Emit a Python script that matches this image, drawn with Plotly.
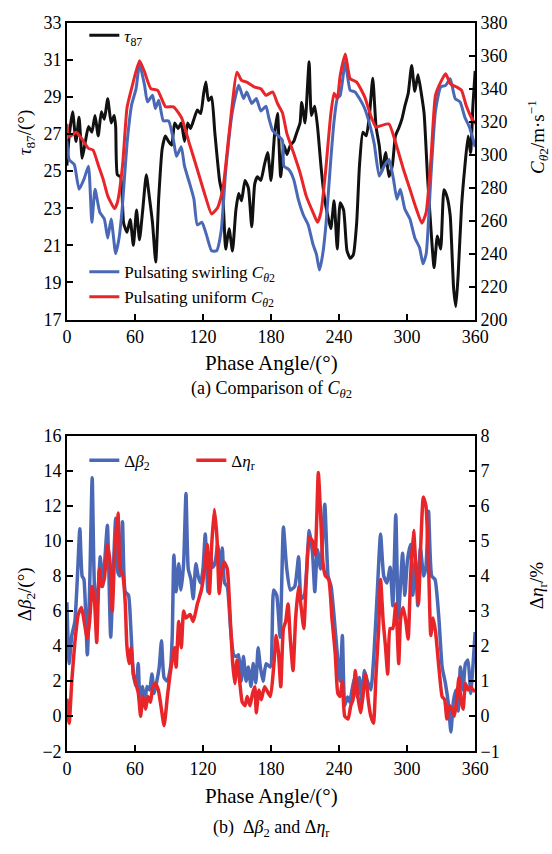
import plotly.graph_objects as go

# ---------------- (a) tau87 and C_theta2 over one pulse ----------------
tau_x = [0, 2, 5, 8, 10.7, 13.5, 16.3, 19, 22, 24.8, 27.6, 30.4, 33, 36, 39, 41.7, 43, 44.5, 47.3, 50,
         53, 55.8, 58.6, 61.4, 64, 67, 70, 72.7, 75.5, 78.3, 81, 84, 86.8, 89.6, 92.4, 95, 98, 100.8,
         103.7, 106.5, 109, 112, 115, 118, 120.6, 122.5, 124.8, 127.6, 130.4, 134.6, 137.5, 140, 143,
         146, 149, 151.5, 154, 157, 160, 163, 165.6, 168, 171, 174, 177, 180, 183, 185.7, 188.5, 191.4,
         194, 197, 200, 202.8, 205.6, 207, 210, 211, 213.6, 215.6, 218.5, 221, 224, 227, 230, 232.7,
         235.6, 238.4, 241, 244, 247, 250, 252.6, 255.5, 258, 261, 264, 266.9, 269.7, 272.6, 275.4, 278,
         281, 284, 287, 289.7, 292.5, 295.4, 298, 301, 304, 306.8, 309.6, 312.5, 315, 318, 321, 323.8,
         326.7, 329.6, 332.5, 335.3, 338, 341, 343, 345, 348, 351, 353.8, 356, 358, 360]
tau_y = [25.3, 26.9, 28.2, 26.6, 27.9, 25.7, 26.6, 27.4, 27.1, 28.0, 26.9, 28.2, 27.8, 28.9, 27.6, 28.0, 27.4,
         24.8, 24.7, 22.2, 21.7, 22.4, 21.0, 22.9, 21.3, 23.0, 24.8, 23.6, 22.2, 20.1, 23.6, 26.2, 26.9,
         26.6, 26.4, 27.6, 27.3, 27.6, 26.6, 27.6, 27.3, 27.8, 28.3, 28.1, 29.2, 29.8, 28.8, 29.0, 27.1,
         24.5, 23.6, 20.8, 21.9, 20.7, 22.9, 23.8, 23.4, 24.5, 24.1, 22.0, 24.3, 24.7, 24.5, 25.3, 26.0,
         24.5, 26.9, 28.1, 24.7, 26.4, 25.9, 26.4, 26.6, 27.1, 27.6, 28.7, 27.6, 28.3, 30.9, 28.0, 28.5,
         27.4, 25.3, 23.6, 22.6, 21.9, 23.4, 20.8, 23.3, 22.9, 20.7, 20.3, 20.5, 22.2, 25.3, 27.1, 26.9,
         28.1, 30.0, 27.4, 26.4, 25.0, 26.0, 24.7, 25.3, 26.9, 27.3, 27.8, 28.5, 29.2, 30.7, 29.3, 30.2,
         29.2, 28.1, 24.7, 21.9, 19.8, 21.5, 20.8, 24.0, 23.6, 22.6, 18.7, 17.7, 19.4, 23.1, 25.3, 26.9,
         26.0, 28.5, 30.4]

swirl_x = [0, 2, 6.5, 10.7, 15, 19, 22, 24.8, 29, 33, 36, 39, 43, 46, 48.7, 53, 57, 61, 64, 68.5, 71,
           75.5, 78, 81, 85, 89.6, 94, 96.6, 100.8, 103.7, 108, 112, 115, 119, 123, 127.6, 132, 136, 140,
           146, 151.5, 155.8, 158.6, 163, 167, 171, 175.5, 178, 181.4, 185.7, 190, 191.4, 195.7, 200,
           204, 208.5, 212.8, 217, 220, 222.7, 225.6, 228.4, 232.7, 235.6, 238.4, 241, 245.5, 249.8,
           254, 258, 262.6, 266.9, 271, 275.4, 279.7, 284, 288, 291, 294, 298, 302.5, 306.8, 311, 314,
           316.8, 321, 325, 329.6, 334, 338, 342.4, 346.7, 351, 355, 360]
swirl_c = [308, 297, 294, 279, 285, 293, 259, 279, 265, 261, 249.5, 261, 240, 249.5, 267, 306.7, 330,
           340, 355, 342, 332, 336, 328, 333, 320.5, 320.5, 308.7, 299, 304.8, 293, 283, 273, 257.4,
           259, 251.5, 241.7, 241.7, 253.5, 290, 326.5, 342, 334, 338, 331, 334, 326.5, 329.4, 322.5,
           314.6, 311.7, 308.7, 293, 291, 285, 273, 263.4, 257.4, 245.6, 239.7, 230, 239.7, 257.4, 297,
           320.5, 334, 336, 356, 339, 338, 334, 328, 318.6, 306.7, 287, 293, 297, 285, 273, 279, 267,
           261, 249.5, 243.6, 233.8, 239.7, 287, 326.5, 341, 342, 346, 334, 332, 322.5, 316.6, 304.8]

uniform_x = [0, 2, 8, 12, 19, 23, 28, 32, 36, 42, 44.5, 49, 53, 57, 64, 68.5, 74, 80, 87, 94, 101,
             108, 115, 122, 127.6, 133, 137.5, 143, 150, 154, 158.6, 165.6, 171, 175.5, 181.4, 185.7,
             190, 194, 200, 205.6, 211, 217, 221, 224, 228, 232.7, 235.6, 238.4, 241, 245.5, 249.8,
             255.5, 262.6, 268, 272.6, 277, 284, 289.7, 296.8, 302.5, 308, 313, 316.8, 321, 325, 329.6,
             334, 338, 343.8, 348, 352, 356.6, 360]
uniform_c = [318.6, 310.7, 313.6, 310.7, 303.8, 302.8, 293, 285, 275, 267.3, 271, 293, 328.4, 340, 357,
             350, 340, 339, 329, 329, 322.5, 306.7, 291, 275, 264, 268, 279, 312.7, 350, 345, 344, 341,
             340, 336, 338, 331, 325.5, 312.7, 300.8, 289, 275, 265, 259, 265, 289, 324.5, 337.3, 334,
             348, 361, 346, 344, 335, 323.5, 316.6, 317.6, 318.6, 307.7, 291, 279, 267.3, 258.4, 265,
             297, 336, 344, 349, 343, 341, 339, 330, 322.5, 318.6]

# ---------------- (b) delta beta2 and delta eta_r ----------------
beta_x = [0, 2, 4.3, 7, 9, 11.4, 13.4, 15, 18, 20, 22.3, 24.3, 26.6, 29.4, 31.4, 33.4, 35.7, 38.6, 41,
          43, 45, 46.6, 49, 51.4, 54.3, 56.3, 58.6, 61, 62.9, 64.3, 66.6, 68.6, 70.6, 72.9, 75, 77, 79,
          81.4, 83.4, 85.7, 88.6, 91.4, 92.9, 94.3, 96.3, 98.6, 100.6, 102.9, 105, 107, 109.4, 111.4,
          113.7, 115.7, 118, 120, 122, 124.3, 126.3, 128.6, 130.6, 132.9, 135, 137, 139, 141.4, 144.3,
          147, 149.4, 151.4, 153.7, 155.7, 158, 160, 162.3, 164.3, 166.6, 168.6, 170.6, 172.9, 175.7,
          179.4, 182.3, 185, 188, 190.9, 193.7, 197, 200.9, 204.3, 206.6, 209.4, 213.7, 216.6, 218.6,
          220.9, 223.7, 227.4, 230.3, 233, 236, 238.9, 240.9, 242.9, 245, 247.4, 249.4, 251.4, 253.7,
          256, 258, 260.3, 262.3, 265, 268, 270.9, 273.7, 276.6, 279.4, 282.3, 285, 287.4, 290, 292.3,
          296, 298, 300.3, 303, 305, 307.4, 309.4, 311.7, 314.6, 316.6, 318.9, 321.7, 324.6, 328,
          330.9, 333.7, 336.6, 338.6, 340.9, 343.1, 345, 347, 349.4, 351.4, 353.7, 356, 358, 360]
beta_v = [6.5, 3.0, 4.6, 5.4, 7.6, 10.7, 8.0, 7.8, 3.5, 7.2, 13.6, 7.4, 6.3, 9.1, 7.4, 8.9, 10.9, 4.5,
          8.4, 11.3, 8.2, 8.0, 11.1, 7.1, 6.9, 5.1, 2.4, 1.7, 3.0, 1.1, 1.7, 0.6, 1.7, 1.5, 2.4, 1.3, 1.9,
          2.8, 4.3, 2.2, 2.0, 2.8, 4.6, 9.2, 7.1, 8.7, 7.2, 8.7, 12.7, 8.4, 7.8, 6.7, 8.7, 8.0, 7.6, 8.4,
          10.4, 7.1, 9.3, 8.5, 8.7, 9.8, 8.4, 9.6, 7.6, 7.4, 5.0, 3.5, 3.4, 3.5, 2.0, 3.4, 2.0, 2.8, 1.7,
          3.0, 1.9, 3.9, 2.8, 2.0, 3.0, 2.8, 7.2, 6.9, 4.5, 10.8, 8.5, 7.2, 7.4, 9.1, 6.7, 6.9, 10.6,
          9.3, 7.1, 9.5, 8.4, 12.1, 8.0, 7.4, 5.4, 3.2, 2.0, 4.6, 0.6, 1.1, 0.8, 1.5, 2.2, 1.1, 2.2, 0.8,
          2.6, 2.0, 1.5, 3.7, 7.1, 10.4, 8.0, 7.6, 8.5, 6.3, 11.5, 5.6, 9.3, 6.9, 8.9, 9.8, 6.9, 8.9, 6.3,
          9.6, 8.0, 8.5, 11.7, 8.0, 7.8, 5.6, 2.8, 1.9, 0.6, -0.9, 0.9, 1.5, 0.3, 2.8, 1.5, 3.0, 3.2, 1.3,
          2.8, 4.8]

eta_x = [0, 2, 4.3, 7, 10, 12.9, 15.7, 18, 20, 22.3, 24.3, 26.3, 28.6, 30.6, 32.9, 35.7, 38, 40, 42.3,
         45, 47, 49.4, 51.4, 52.9, 54.9, 56.6, 58.6, 61, 63, 65, 67, 69.4, 71.4, 73.7, 75.7, 78, 80.6,
         82.9, 85.7, 88.6, 91, 92.9, 94.9, 96.3, 98.6, 100.9, 102.9, 105, 108.6, 111.4, 115, 118.6,
         121.4, 123.7, 125.7, 127.7, 130, 132.3, 134.3, 136.3, 138.6, 141.4, 143.7, 146, 148, 150, 152.3,
         154.6, 157, 159, 161.4, 163.7, 165.7, 167, 169.4, 171.4, 174.3, 179.4, 182.3, 184.6, 186.6,
         188.6, 190.9, 192.9, 195, 197, 199.4, 201.7, 204.3, 206.6, 208.9, 211.4, 213.7, 216.6, 218.9,
         221.7, 223.7, 225.7, 228, 230.9, 233.7, 236.6, 238.9, 240.9, 242.9, 245, 248, 250.3, 252.3,
         254.3, 256.6, 258.9, 261, 263.4, 265.7, 268, 270.3, 272.6, 274.9, 276.6, 278.9, 280.9, 282.9,
         285, 287.4, 290, 292.6, 294.3, 296.6, 298.9, 300.9, 303.1, 305.7, 308, 310, 312.3, 314.3,
         316.6, 318.9, 320.9, 322.9, 325.1, 328, 330.9, 333.1, 335.1, 337.4, 339.4, 341.7, 343.7, 345.7,
         347.4, 349.4, 351.4, 353.7, 356, 358.3, 360]
eta_v = [0.5, -0.2, 1.0, 2.1, 2.9, 3.1, 2.6, 2.2, 2.7, 3.7, 3.3, 2.1, 4.2, 3.7, 3.9, 4.9, 4.4, 3.0, 4.8,
         5.8, 4.2, 4.0, 3.25, 2.0, 1.5, 1.95, 1.2, 0.9, 0.65, 0.0, 0.56, 0.2, 0.56, 0.4, 0.84, 0.93, 0.75,
         0.3, -0.27, 0.56, 1.2, 1.6, 1.95, 1.4, 2.7, 1.95, 3.0, 2.8, 2.9, 2.7, 3.2, 3.6, 4.2, 4.9, 3.5,
         4.9, 5.9, 5.1, 3.5, 4.1, 4.4, 4.2, 3.0, 1.6, 0.93, 1.6, 1.0, 0.4, 0.3, 0.56, 0.3, 0.65, 0.84,
         0.1, 0.75, 0.47, 0.84, 0.56, 1.4, 2.3, 1.8, 0.84, 2.5, 2.7, 3.2, 2.2, 1.3, 2.8, 3.7, 3.1, 2.5,
         4.1, 5.1, 5.0, 4.6, 6.95, 5.75, 4.4, 4.0, 3.9, 2.8, 1.8, 0.65, 0.56, 1.0, 0.0, -0.08, 0.3,
         0.47, 1.3, 0.56, 0.1, 0.56, 1.2, 0.47, 0.0, -0.2, 1.2, 2.5, 3.9, 2.7, 2.0, 1.2, 2.5, 2.5, 3.2,
         1.5, 2.8, 3.1, 2.7, 2.2, 4.0, 5.3, 4.1, 3.2, 5.1, 6.25, 6.0, 4.3, 2.3, 2.8, 2.4, 1.4, 0.56,
         0.47, -0.08, 0.3, 0.2, 0.0, 0.47, 1.1, 0.47, 0.2, 0.93, 0.75, 0.84, 0.75, 0.7]

phase_ticks = [0, 60, 120, 180, 240, 300, 360]

BLUE = "#4a68b5"
RED = "#e8262a"
BLACK = "#111111"
FONT = "Liberation Serif"
W, H = 552, 854


def px_x(p):
    return p / W


def px_y(p):
    return 1 - p / H


fig = go.Figure()

fig.add_trace(go.Scatter(x=swirl_x, y=swirl_c, xaxis="x", yaxis="y2", mode="lines",
                         line=dict(color=BLUE, width=3, shape="spline", smoothing=0.5),
                         name="Pulsating swirling <i>C</i><sub><i>θ</i>2</sub>", legend="legend2"))
fig.add_trace(go.Scatter(x=uniform_x, y=uniform_c, xaxis="x", yaxis="y2", mode="lines",
                         line=dict(color=RED, width=3, shape="spline", smoothing=0.5),
                         name="Pulsating uniform <i>C</i><sub><i>θ</i>2</sub>", legend="legend2"))
fig.add_trace(go.Scatter(x=tau_x, y=tau_y, xaxis="x", yaxis="y", mode="lines",
                         line=dict(color=BLACK, width=3, shape="spline", smoothing=0.5),
                         name="<i>τ</i><sub>87</sub>", legend="legend"))

fig.add_trace(go.Scatter(x=beta_x, y=beta_v, xaxis="x2", yaxis="y3", mode="lines",
                         line=dict(color=BLUE, width=3.5, shape="spline", smoothing=0.5),
                         name="Δ<i>β</i><sub>2</sub>", legend="legend3"))
fig.add_trace(go.Scatter(x=eta_x, y=eta_v, xaxis="x2", yaxis="y4", mode="lines",
                         line=dict(color=RED, width=3.5, shape="spline", smoothing=0.5),
                         name="Δ<i>η</i><sub>r</sub>", legend="legend3"))

axis_common = dict(showline=True, linecolor="black", linewidth=1.5, ticks="inside", ticklen=6,
                   tickwidth=1.5, tickcolor="black", showgrid=False, zeroline=False,
                   tickfont=dict(family=FONT, size=18, color="black"))

top_dom = [px_y(317), px_y(13)]
bot_dom = [px_y(759), px_y(436)]
x_dom = [px_x(64), px_x(486)]

fig.update_layout(
    width=W, height=H,
    margin=dict(l=0, r=0, t=0, b=0),
    paper_bgcolor="white", plot_bgcolor="white",
    font=dict(family=FONT, color="black"),
    xaxis=dict(domain=x_dom, anchor="y", range=[0, 360], tickvals=phase_ticks, mirror=True,
               **axis_common),
    yaxis=dict(domain=top_dom, anchor="x", range=[17, 33], tickvals=list(range(17, 34, 2)),
               **axis_common),
    yaxis2=dict(overlaying="y", side="right", anchor="x", range=[200, 380],
                tickvals=list(range(200, 381, 20)), **axis_common),
    xaxis2=dict(domain=x_dom, anchor="y3", range=[0, 360], tickvals=phase_ticks, mirror=True,
                **axis_common),
    yaxis3=dict(domain=bot_dom, anchor="x2", range=[-2, 16], tickvals=list(range(-2, 17, 2)),
                **axis_common),
    yaxis4=dict(overlaying="y3", side="right", anchor="x2", range=[-1, 8],
                tickvals=list(range(-1, 9)), **axis_common),
    legend=dict(x=px_x(82), y=px_y(8), xanchor="left", yanchor="top",
                bgcolor="rgba(0,0,0,0)", font=dict(family=FONT, size=17, color="black")),
    legend2=dict(x=px_x(82), y=px_y(250), xanchor="left", yanchor="top",
                 bgcolor="rgba(0,0,0,0)", tracegroupgap=0,
                 font=dict(family=FONT, size=17, color="black")),
    legend3=dict(x=px_x(82), y=px_y(443), xanchor="left", yanchor="top", orientation="h",
                 entrywidth=62, entrywidthmode="pixels",
                 bgcolor="rgba(0,0,0,0)", font=dict(family=FONT, size=17, color="black")),
    showlegend=True,
)

ann = [
    dict(text="<i>τ</i><sub>87</sub>/(°)", x=px_x(22), y=px_y(125), textangle=-90, size=19),
    dict(text="<i>C</i><sub><i>θ</i>2</sub>/m·s<sup>−1</sup>", x=px_x(551), y=px_y(130),
         textangle=-90, size=19),
    dict(text="Phase Angle/(°)", x=px_x(275), y=px_y(361), textangle=0, size=21),
    dict(text="(a) Comparison of <i>C</i><sub><i>θ</i>2</sub>", x=px_x(275), y=px_y(389),
         textangle=0, size=18),
    dict(text="Δ<i>β</i><sub>2</sub>/(°)", x=px_x(22), y=px_y(598), textangle=-90, size=19),
    dict(text="Δ<i>η</i><sub>r</sub>/%", x=px_x(551), y=px_y(590), textangle=-90, size=19),
    dict(text="Phase Angle/(°)", x=px_x(275), y=px_y(805), textangle=0, size=21),
    dict(text="(b)  Δ<i>β</i><sub>2</sub> and Δ<i>η</i><sub>r</sub>", x=px_x(275), y=px_y(838),
         textangle=0, size=18),
]
for a in ann:
    fig.add_annotation(text=a["text"], x=a["x"], y=a["y"], xref="paper", yref="paper",
                       xanchor="center", yanchor="middle", textangle=a["textangle"],
                       showarrow=False, font=dict(family=FONT, size=a["size"], color="black"))

fig.write_html("out.html")
